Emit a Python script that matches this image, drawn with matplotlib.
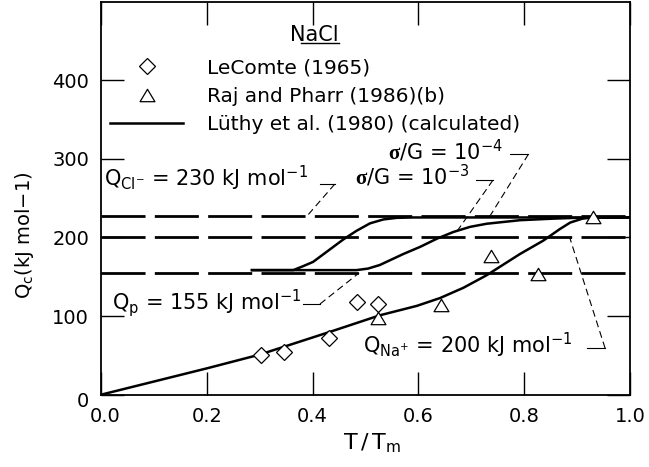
import matplotlib
matplotlib.use("Agg")
import matplotlib.pyplot as plt
from matplotlib.lines import Line2D
from matplotlib.path import Path
import matplotlib.transforms as mtransforms

plt.rcParams['font.family'] = ['DejaVu Sans']
plt.rcParams['mathtext.fontset'] = 'custom'
plt.rcParams['mathtext.rm'] = 'DejaVu Sans'
plt.rcParams['mathtext.it'] = 'DejaVu Sans:italic'
plt.rcParams['mathtext.bf'] = 'Liberation Serif:bold'
plt.rcParams['lines.scale_dashes'] = False

# ---------------- data ----------------
activation_levels = [227, 200, 155]          # Q_Cl-, Q_Na+, Q_p (drawn dashed)

curve_a_x = [0.283, 0.3635, 0.382, 0.401, 0.427, 0.458, 0.483, 0.5085, 0.534, 0.559, 0.59, 1.0]
curve_a_y = [158.5, 158.5, 163.5, 169, 182, 197.5, 208.5, 218, 223, 225, 225.5, 225.5]

curve_b_x = [0.283, 0.483, 0.505, 0.527, 0.5715, 0.603, 0.635, 0.666, 0.6975, 0.729, 0.792, 0.855, 0.905, 1.0]
curve_b_y = [158.5, 158.5, 160.5, 165, 179, 188, 198.5, 207, 213.5, 217.5, 222, 224, 225.2, 225.5]

luthy_x = [0, 0.2, 0.3, 0.433, 0.527, 0.597, 0.641, 0.685, 0.729, 0.792, 0.836, 0.868, 0.887, 0.91, 0.93, 1.0]
luthy_y = [0, 33.5, 51, 80, 101, 113, 123, 136, 152, 179, 196, 211, 219, 224, 225.5, 225.5]

lecomte_x = [0.302, 0.346, 0.431, 0.483, 0.523]
lecomte_y = [50.5, 54, 72.5, 118, 115]

raj_x = [0.524, 0.642, 0.737, 0.827, 0.931]
raj_y = [97, 114, 176, 153, 226]

xticks = [0.0, 0.2, 0.4, 0.6, 0.8, 1.0]
xticklabels = ['0.0', '0.2', '0.4', '0.6', '0.8', '1.0']
yticks = [0, 100, 200, 300, 400]
yticklabels = ['0', '100', '200', '300', '400']

# ---------------- figure ----------------
fig = plt.figure(figsize=(6.49, 4.67), dpi=100)
ax = fig.add_axes([101/649, (467-394.7)/467, 529/649, 393/467])
ax.set_xlim(0, 1.0)
ax.set_ylim(0, 500)

FS = 14
FS_LEG = 14.5
FS_ANN = 15
tri = Path([(-0.6, -0.5), (0.6, -0.5), (0.0, 0.5), (-0.6, -0.5)],
           [Path.MOVETO, Path.LINETO, Path.LINETO, Path.CLOSEPOLY])
TRI_MS = 10.7
DIA_MS = 8.5

for lev in activation_levels:
    ax.axhline(lev, color='black', lw=2.0, dashes=(31.7, 6.7), zorder=2)

for xs, ys in [(curve_a_x, curve_a_y), (curve_b_x, curve_b_y), (luthy_x, luthy_y)]:
    ax.plot(xs, ys, color='black', lw=1.8, zorder=3, solid_capstyle='butt')

ax.plot(lecomte_x, lecomte_y, linestyle='none', marker='D', ms=DIA_MS, mfc='white',
        mec='black', mew=0.9, zorder=4)
ax.plot(raj_x, raj_y, linestyle='none', marker=tri, ms=TRI_MS, mfc='white',
        mec='black', mew=0.9, zorder=4)

# ticks
ax.set_xticks(xticks)
ax.set_xticklabels(xticklabels)
ax.set_yticks(yticks)
ax.set_yticklabels(yticklabels)
ax.tick_params(direction='in', length=16.5, width=1.0, top=True, right=True,
               labelsize=FS)
ax.tick_params(axis='x', pad=9)
ax.tick_params(axis='y', pad=8.5)
for sp in ax.spines.values():
    sp.set_linewidth(1.3)

lab0 = ax.get_yticklabels()[0]
lab0.set_transform(lab0.get_transform() + mtransforms.ScaledTranslation(0, -5/100, fig.dpi_scale_trans))
labx0 = ax.get_xticklabels()[0]
labx0.set_transform(labx0.get_transform() + mtransforms.ScaledTranslation(4/100, 0, fig.dpi_scale_trans))

# axis labels
ax.set_xlabel(r'T$\,$/$\,$T$_{\mathrm{m}}$', fontsize=16)
ax.xaxis.set_label_coords(0.512, -0.093)
ax.set_ylabel('Q$_{\\mathrm{c}}$(kJ mol\u22121)', fontsize=FS)
ax.yaxis.set_label_coords(-0.123, 0.406)

# legend
handles = [
    Line2D([], [], linestyle='none', marker='D', ms=DIA_MS, mfc='white', mec='black', mew=0.9),
    Line2D([], [], linestyle='none', marker=tri, ms=TRI_MS, mfc='white', mec='black', mew=0.9),
    Line2D([], [], color='black', lw=1.8),
]
labels = ['LeComte (1965)', 'Raj and Pharr (1986)(b)', 'Lüthy et al. (1980) (calculated)']
ax.legend(handles, labels, loc='upper left', bbox_to_anchor=(0.017, 0.856),
          frameon=False, fontsize=FS_LEG, borderpad=0, borderaxespad=0,
          handlelength=3.63, handletextpad=1.19, labelspacing=0.47)

# NaCl title with partial underline
ax.text(0.4026, 450.4, 'NaCl', fontsize=FS_ANN, ha='center', va='baseline')
ax.plot([0.379, 0.449], [447, 447], color='black', lw=1.0)

# annotations with leader lines
thin = dict(color='black', lw=0.8)
ax.text(0.006, 264.9, r'Q$_{\mathrm{Cl}^{-}}$ = 230 kJ mol$^{-1}$', fontsize=FS_ANN, va='baseline')
ax.plot([0.414, 0.442], [268, 268], **thin)
ax.plot([0.442, 0.389], [268, 227], dashes=(5, 3), **thin)

ax.text(0.020, 108.6, r'Q$_{\mathrm{p}}$ = 155 kJ mol$^{-1}$', fontsize=FS_ANN, va='baseline')
ax.plot([0.382, 0.414], [115.4, 115.4], **thin)
ax.plot([0.414, 0.488], [115.4, 155], dashes=(5, 3), **thin)

ax.text(0.496, 53.4, r'Q$_{\mathrm{Na}^{+}}$ = 200 kJ mol$^{-1}$', fontsize=FS_ANN, va='baseline')
ax.plot([0.919, 0.953], [59, 59], **thin)
ax.plot([0.953, 0.886], [59, 200], dashes=(5, 3), **thin)

ax.text(0.543, 299.5, r'$\mathbf{\sigma}$/G = 10$^{-4}$', fontsize=FS_ANN, va='baseline')
ax.plot([0.773, 0.808], [306, 306], **thin)
ax.plot([0.808, 0.735], [306, 227], dashes=(5, 3), **thin)

ax.text(0.480, 266.8, r'$\mathbf{\sigma}$/G = 10$^{-3}$', fontsize=FS_ANN, va='baseline')
ax.plot([0.709, 0.741], [273, 273], **thin)
ax.plot([0.741, 0.672], [273, 207], dashes=(5, 3), **thin)

fig.savefig('out.png', dpi=100)
